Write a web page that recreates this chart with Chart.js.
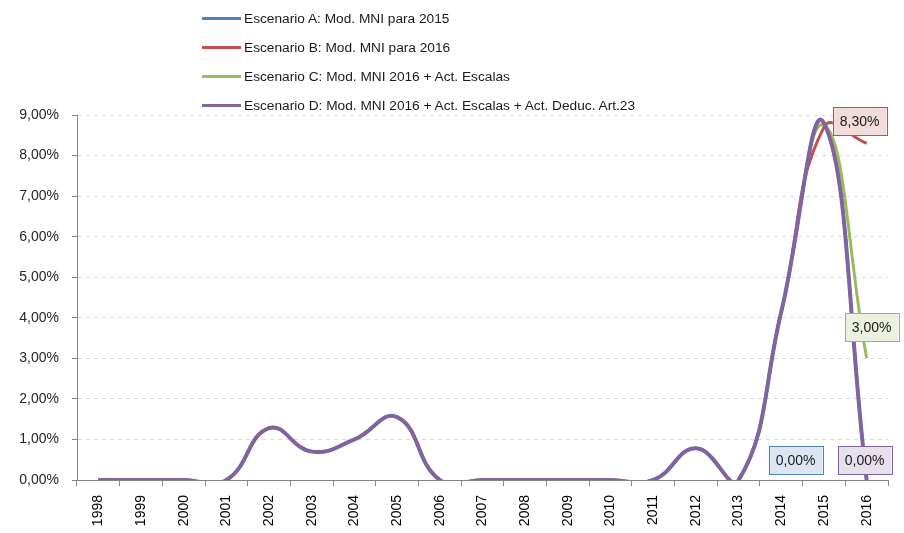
<!DOCTYPE html>
<html lang="es">
<head>
  <meta charset="UTF-8" />
  <title>Escenarios MNI</title>
  <script src="https://cdn.jsdelivr.net/npm/chart.js"></script>
  <style>
    html, body { margin: 0; padding: 0; background: #fff; }
    .wrap { position: relative; width: 904px; height: 533px; }
    #legend {
      position: absolute; left: 202px; top: 4px;
      font: 13.7px "Liberation Sans", Arial, sans-serif; color: #1a1a1a;
      list-style: none; margin: 0; padding: 0;
    }
    #legend li { height: 29px; line-height: 29px; display: flex; align-items: center; }
    #legend .sw { display: inline-block; width: 39px; height: 3px; margin-right: 3px; }
  </style>
</head>
<body>
  <div class="wrap">
    <canvas id="chart" width="904" height="533"></canvas>
    <ul id="legend"></ul>
  </div>

  <script>
    const years = ['1998','1999','2000','2001','2002','2003','2004','2005','2006','2007',
                   '2008','2009','2010','2011','2012','2013','2014','2015','2016'];
    const seriesNames = [
      'Escenario A: Mod. MNI para 2015',
      'Escenario B: Mod. MNI para 2016',
      'Escenario C: Mod. MNI 2016 + Act. Escalas',
      'Escenario D: Mod. MNI 2016 + Act. Escalas + Act. Deduc. Art.23'
    ];
    // values in %
    const escA = [0,0,0,0,1.28,0.70,1.00,1.55,0,0,0,0,0,0,0.78,0,4.15,8.80,0];
    const escB = [0,0,0,0,1.28,0.70,1.00,1.55,0,0,0,0,0,0,0.78,0,4.15,8.70,8.30];
    const escC = [0,0,0,0,1.28,0.70,1.00,1.55,0,0,0,0,0,0,0.78,0,4.15,8.75,3.00];
    const escD = [0,0,0,0,1.28,0.70,1.00,1.55,0,0,0,0,0,0,0.78,0,4.15,8.80,0];
    const yTicks = [0,1,2,3,4,5,6,7,8,9];

    const colors = ['#4F81BD', '#C0504D', '#9BBB59', '#8064A2'];
    const fills  = ['#DCE6F2', '#F2DCDB', '#EBF1DE', '#E5E0EC'];
    const widths = [3, 3, 3, 4];
    // manual label placement (box center relative to last point)
    const labelOffsets = [[-71, -20], [-7, -22], [5, -31], [-2, -20]];

    const fmt = v => v.toFixed(2).replace('.', ',') + '%';

    const allSeries = [escA, escB, escC, escD];
    const datasets = allSeries.map((d, i) => ({
      label: seriesNames[i],
      data: d,
      borderColor: colors[i],
      backgroundColor: colors[i],
      borderWidth: widths[i],
      pointRadius: 0,
      tension: 0.45,
      capBezierPoints: false,
      order: 3 - i
    }));

    const lastLabels = {
      id: 'lastLabels',
      afterDatasetsDraw(chart) {
        const ctx = chart.ctx;
        ctx.save();
        ctx.font = '14px "Liberation Sans", Arial, sans-serif';
        ctx.textAlign = 'center';
        ctx.textBaseline = 'middle';
        chart.data.datasets.forEach((ds, i) => {
          const meta = chart.getDatasetMeta(i);
          const pt = meta.data[ds.data.length - 1];
          const txt = fmt(ds.data[ds.data.length - 1]);
          const w = ctx.measureText(txt).width + 14;
          const h = 28;
          const cx = pt.x + labelOffsets[i][0];
          const cy = pt.y + labelOffsets[i][1];
          ctx.fillStyle = fills[i];
          ctx.strokeStyle = colors[i];
          ctx.lineWidth = 1;
          ctx.fillRect(cx - w / 2, cy - h / 2, w, h);
          ctx.strokeRect(Math.round(cx - w / 2) + 0.5, Math.round(cy - h / 2) + 0.5, Math.round(w), h);
          ctx.fillStyle = '#1a1a1a';
          ctx.fillText(txt, cx, cy + 1);
        });
        ctx.restore();
      }
    };

    // html legend
    const legendEl = document.getElementById('legend');
    seriesNames.forEach((n, i) => {
      const li = document.createElement('li');
      li.innerHTML = '<span class="sw" style="background:' + colors[i] + '"></span>' + n;
      legendEl.appendChild(li);
    });

    new Chart(document.getElementById('chart'), {
      type: 'line',
      data: { labels: years, datasets: datasets },
      plugins: [lastLabels],
      options: {
        responsive: false,
        animation: false,
        layout: { padding: { top: 115, right: 16, left: 0, bottom: 0 } },
        plugins: {
          legend: { display: false },
          tooltip: { enabled: false }
        },
        scales: {
          x: {
            offset: true,
            grid: {
              offset: true,
              drawOnChartArea: false,
              tickLength: 6,
              color: '#868686'
            },
            border: { color: '#868686' },
            ticks: {
              maxRotation: 90,
              minRotation: 90,
              color: '#000',
              font: { family: '"Liberation Sans", Arial, sans-serif', size: 14 },
              padding: 9
            },
            afterFit(s) { s.height = 53; }
          },
          y: {
            min: 0,
            max: 9,
            afterBuildTicks(s) { s.ticks = yTicks.map(v => ({ value: v })); },
            grid: {
              color: '#D9D9D9',
              tickColor: '#868686',
              tickLength: 5
            },
            border: { color: '#868686', dash: [4, 4] },
            ticks: {
              color: '#262626',
              font: { family: '"Liberation Sans", Arial, sans-serif', size: 14 },
              padding: 13,
              callback: v => fmt(v)
            },
            afterFit(s) { s.width = 77; }
          }
        }
      }
    });
  </script>
</body>
</html>
